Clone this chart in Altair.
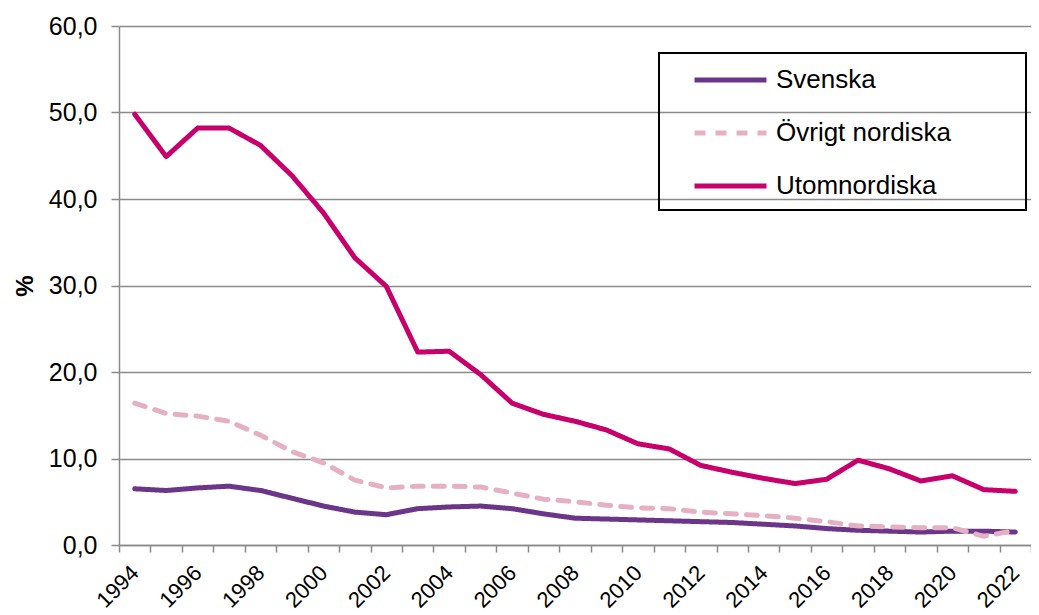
import altair as alt
import pandas as pd

years = ["1994", "1995", "1996", "1997", "1998", "1999", "2000", "2001", "2002", "2003",
         "2004", "2005", "2006", "2007", "2008", "2009", "2010", "2011", "2012", "2013",
         "2014", "2015", "2016", "2017", "2018", "2019", "2020", "2021", "2022"]

svenska = [6.5, 6.3, 6.6, 6.8, 6.3, 5.4, 4.5, 3.8, 3.5, 4.2,
           4.4, 4.5, 4.2, 3.6, 3.1, 3.0, 2.9, 2.8, 2.7, 2.6,
           2.4, 2.2, 1.9, 1.7, 1.6, 1.5, 1.6, 1.6, 1.5]

ovrigt_nordiska = [16.4, 15.2, 14.9, 14.3, 12.7, 10.8, 9.5, 7.5, 6.6, 6.8,
                   6.8, 6.7, 6.0, 5.3, 5.0, 4.6, 4.3, 4.2, 3.8, 3.6,
                   3.4, 3.1, 2.7, 2.2, 2.1, 2.0, 2.0, 1.0, 1.7]

utomnordiska = [49.8, 44.9, 48.2, 48.2, 46.2, 42.7, 38.4, 33.2, 29.9, 22.3,
                22.4, 19.7, 16.4, 15.1, 14.3, 13.3, 11.7, 11.1, 9.2, 8.4,
                7.7, 7.1, 7.6, 9.8, 8.8, 7.4, 8.0, 6.4, 6.2]

series_names = ["Svenska", "Övrigt nordiska", "Utomnordiska"]
series_colors = ["#6B3589", "#E6B0C4", "#C8006B"]
series_dash = [[1, 0], [11, 10], [1, 0]]
y_ticks = [0, 10, 20, 30, 40, 50, 60]

rows = []
for name, vals in zip(series_names, [svenska, ovrigt_nordiska, utomnordiska]):
    for yr, v in zip(years, vals):
        rows.append({"År": yr, "Andel": v, "Serie": name})
df = pd.DataFrame(rows)

FONT = "Liberation Sans"
GRAY = "#8a8a8a"

legend = alt.Legend(
    title=None, orient="none", legendX=573, legendY=41,
    symbolType="stroke", symbolSize=5184, symbolStrokeWidth=5,
    labelFontSize=26, labelFont=FONT, labelColor="black", labelOffset=7,
    clipHeight=26, rowPadding=27, padding=0, labelLimit=0,
)

lines = alt.Chart(df).mark_line(strokeWidth=5, strokeCap="round", strokeJoin="round").encode(
    x=alt.X("År:O", sort=years, bandPosition=0.5,
            scale=alt.Scale(type="band", paddingInner=0, paddingOuter=0),
            axis=alt.Axis(title=None, labelAngle=-45, labelAlign="right", labelBaseline="middle",
                          labelExpr="parseInt(datum.value) % 2 == 0 ? datum.value : ''",
                          tickBand="extent", tickSize=7, labelPadding=17,
                          labelFontSize=22, labelFont=FONT, labelColor="black",
                          domainColor=GRAY, domainWidth=1.5, tickColor=GRAY, tickWidth=1.5,
                          grid=False, labelOverlap=False)),
    y=alt.Y("Andel:Q", scale=alt.Scale(domain=[0, 60], nice=False),
            axis=alt.Axis(title="%", titleFontSize=24, titleFontWeight="bold", titleFont=FONT,
                          titleColor="black", titlePadding=11, values=y_ticks,
                          labelExpr="replace(format(datum.value, '.1f'), '.', ',')",
                          labelFontSize=25, labelFont=FONT, labelColor="black",
                          tickSize=8, labelPadding=14,
                          domainColor=GRAY, domainWidth=1.5, tickColor=GRAY, tickWidth=1.5,
                          grid=True, gridColor=GRAY, gridWidth=1.5)),
    color=alt.Color("Serie:N", scale=alt.Scale(domain=series_names, range=series_colors), legend=legend),
    strokeDash=alt.StrokeDash("Serie:N", scale=alt.Scale(domain=series_names, range=series_dash), legend=legend),
    order=alt.Order("År:O"),
)

box = alt.Chart(alt.Data(values=[{}])).mark_rect(filled=False, stroke="black", strokeWidth=2).encode(
    x=alt.value(540), x2=alt.value(907), y=alt.value(27), y2=alt.value(184)
)

chart = alt.layer(box, lines).properties(
    width=912, height=519,
    autosize=alt.AutoSizeParams(type="none"),
    padding={"left": 111, "top": 18, "right": 0, "bottom": 70},
).configure_view(stroke=None)

chart.save("out.html", embed_options={"renderer": "svg", "actions": False})
